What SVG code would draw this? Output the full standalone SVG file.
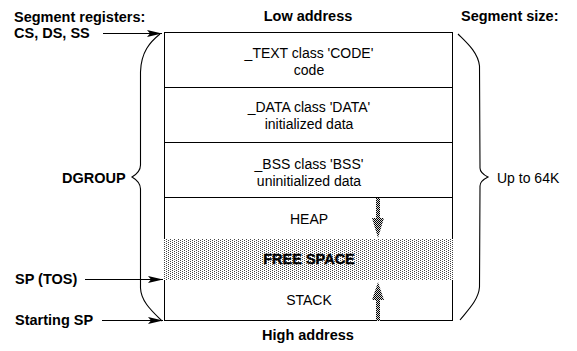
<svg xmlns="http://www.w3.org/2000/svg" width="577" height="351" viewBox="0 0 577 351">
  <style>
    text { font-family: "Liberation Sans", Arial, sans-serif; font-size: 14px; fill: #000; }
    .b { font-weight: bold; font-size: 14.5px; }
    .c { text-anchor: middle; }
    .seg { fill: #fff; stroke: #000; stroke-width: 1; shape-rendering: crispEdges; }
    .ln { fill: none; stroke: #000; stroke-width: 1; }
    .brace { fill: none; stroke: #000; stroke-width: 1.1; }
  </style>
  <defs>
    <pattern id="dots" width="4" height="2" patternUnits="userSpaceOnUse">
      <rect width="4" height="2" fill="#fff"/>
      <rect x="0" y="0" width="1" height="1" fill="#444"/>
      <rect x="2" y="1" width="1" height="1" fill="#444"/>
    </pattern>
    <pattern id="check" width="2" height="2" patternUnits="userSpaceOnUse">
      <rect width="2" height="2" fill="#ddd"/>
      <rect x="0" y="0" width="1" height="1" fill="#000"/>
      <rect x="1" y="1" width="1" height="1" fill="#000"/>
    </pattern>
    <marker id="ah" markerWidth="16" markerHeight="8" refX="15" refY="4" orient="auto" markerUnits="userSpaceOnUse">
      <path d="M0,0.5 L15,4 L0,7.5 L3,4 Z" fill="#000"/>
    </marker>
  </defs>

  <g id="seg-text">
    <rect class="seg" x="164.5" y="32.5" width="288" height="55"/>
    <text class="c" x="309" y="58">_TEXT class 'CODE'</text>
    <text class="c" x="309" y="75">code</text>
  </g>
  <g id="seg-data">
    <rect class="seg" x="164.5" y="87.5" width="288" height="55"/>
    <text class="c" x="309" y="112">_DATA class 'DATA'</text>
    <text class="c" x="309" y="129">initialized data</text>
  </g>
  <g id="seg-bss">
    <rect class="seg" x="164.5" y="142.5" width="288" height="55"/>
    <text class="c" x="309" y="169">_BSS class 'BSS'</text>
    <text class="c" x="309" y="186">uninitialized data</text>
  </g>
  <g id="seg-heap">
    <rect class="seg" x="164.5" y="197.5" width="288" height="42"/>
    <text class="c" x="309" y="224">HEAP</text>
  </g>
  <g id="seg-stack">
    <rect class="seg" x="164.5" y="279.5" width="288" height="41"/>
    <text class="c" x="309" y="305">STACK</text>
  </g>
  <g id="seg-free">
    <rect x="164" y="239" width="289" height="41" fill="url(#dots)"/>
    <text class="c b" x="309" y="264" stroke="#000" stroke-width="0.4">FREE SPACE</text>
  </g>

  <g id="growth-arrows">
    <path d="M376,198 L380,198 L380,218 L384,218 L378,238 L372,218 L376,218 Z" fill="url(#check)"/>
    <path d="M378,282 L384,300 L380,300 L380,321 L376,321 L376,300 L372,300 Z" fill="url(#check)"/>
  </g>

  <g id="labels">
    <text class="b" x="14" y="22">Segment registers:</text>
    <text class="b" x="14" y="38">CS, DS, SS</text>
    <text class="c b" x="308" y="21">Low address</text>
    <text class="b" x="461" y="21">Segment size:</text>
    <text class="b" x="62" y="183">DGROUP</text>
    <text x="497" y="183">Up to 64K</text>
    <text class="b" x="15" y="284">SP (TOS)</text>
    <text class="b" x="15" y="325">Starting SP</text>
    <text class="c b" x="308" y="340">High address</text>
  </g>

  <g id="connectors">
    <line class="ln" x1="103" y1="33.5" x2="162" y2="33.5" marker-end="url(#ah)"/>
    <line class="ln" x1="85" y1="279.5" x2="163" y2="279.5" marker-end="url(#ah)"/>
    <line class="ln" x1="102" y1="320.5" x2="163" y2="320.5" marker-end="url(#ah)"/>
    <path class="brace" d="M160,34 C150,42 141,52 140.5,72 L140.5,165 Q140.5,172 132,177 Q140.5,182 140.5,189 L140.5,288 C141,302 153,312 162,321"/>
    <path class="brace" d="M458,34 C466,42 478,52 479.5,66 L480,168 Q480,173 488,177 Q480,181 480,186 L479.5,287 C478.5,300 468,310 460,320"/>
  </g>
</svg>
